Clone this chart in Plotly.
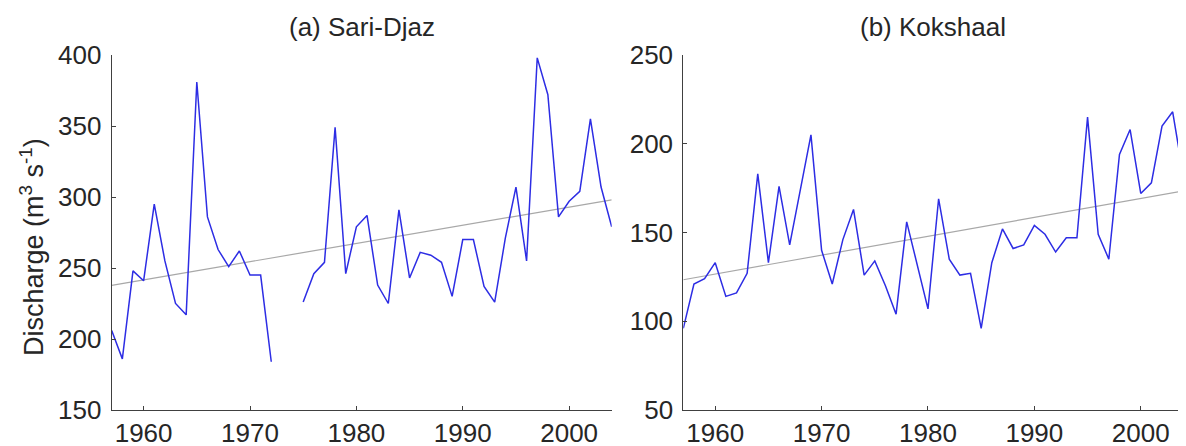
import plotly.graph_objects as go

years = list(range(1957, 2005))

# Sari-Djaz annual discharge (m3/s); 1973-1974 missing
sari_djaz = [206, 186, 248, 241, 295, 255, 225, 217, 381, 286,
             263, 251, 262, 245, 245, 184, None, None, 226, 246,
             254, 349, 246, 279, 287, 238, 225, 291, 243, 261,
             259, 254, 230, 270, 270, 237, 226, 271, 307, 255,
             398, 372, 286, 297, 304, 355, 307, 279]

# Kokshaal annual discharge (m3/s)
kokshaal = [96, 121, 124, 133, 114, 116, 127, 183, 133, 176,
            143, 173, 205, 140, 121, 146, 163, 126, 134, 120,
            104, 156, 131, 107, 169, 135, 126, 127, 96, 133,
            152, 141, 143, 154, 149, 139, 147, 147, 215, 149,
            135, 194, 208, 172, 178, 210, 218, 182]

# linear trend end values (1957, 2004)
trend_years = [1957, 2004]
sari_trend = [237.8, 298.0]
kok_trend = [123.4, 173.4]

titles = ["(a) Sari-Djaz", "(b) Kokshaal"]
ylabel = "Discharge (m<sup>3</sup> s<sup>-1</sup>)"
x_ticks = [1960, 1970, 1980, 1990, 2000]
left_yticks = [150, 200, 250, 300, 350, 400]
right_yticks = [50, 100, 150, 200, 250]

W, H = 1186, 446
OFF = 8  # page body margin offset
FONT = "Liberation Sans, Arial, sans-serif"
TXT = "#262626"
AX = "#404040"
BLUE = "rgb(45,45,228)"
GRAY = "#a8a8a8"

fig = go.Figure()
fig.add_trace(go.Scatter(x=trend_years, y=sari_trend, mode="lines",
                         line=dict(color=GRAY, width=1.2), xaxis="x", yaxis="y",
                         showlegend=False))
fig.add_trace(go.Scatter(x=years, y=sari_djaz, mode="lines", connectgaps=False,
                         line=dict(color=BLUE, width=1.5), xaxis="x", yaxis="y",
                         showlegend=False))
fig.add_trace(go.Scatter(x=trend_years, y=kok_trend, mode="lines",
                         line=dict(color=GRAY, width=1.2), xaxis="x2", yaxis="y2",
                         showlegend=False))
fig.add_trace(go.Scatter(x=years, y=kokshaal, mode="lines",
                         line=dict(color=BLUE, width=1.5), xaxis="x2", yaxis="y2",
                         showlegend=False))

def px_x(p):
    return (p - OFF) / W

def px_y(p):
    return (H - (p - OFF)) / H

xdom1 = [px_x(111.7), px_x(611.7)]
xdom2 = [px_x(683.3), px_x(1183.3)]
ydom = [px_y(410), px_y(55)]

axis_common = dict(showline=True, linecolor=AX, linewidth=1, ticks="inside",
                   tickcolor=AX, ticklen=4, showgrid=False, zeroline=False,
                   automargin=False,
                   tickfont=dict(family=FONT, size=26, color=TXT), mirror=False)

fig.update_layout(
    template="none",
    width=W, height=H,
    margin=dict(l=0, r=0, t=0, b=0, pad=0, autoexpand=False),
    paper_bgcolor="white", plot_bgcolor="white",
    xaxis=dict(domain=xdom1, range=[1957, 2004], tickvals=x_ticks, anchor="y",
               **axis_common),
    yaxis=dict(domain=ydom, range=[150, 400], tickvals=left_yticks, anchor="x",
               ticklabelstandoff=4, **axis_common),
    xaxis2=dict(domain=xdom2, range=[1957, 2004], tickvals=x_ticks, anchor="y2",
                **axis_common),
    yaxis2=dict(domain=ydom, range=[50, 250], tickvals=right_yticks, anchor="x2",
                ticklabelstandoff=4, **axis_common),
    annotations=[
        dict(text=titles[0], x=(xdom1[0] + xdom1[1]) / 2, y=px_y(27), xref="paper",
             yref="paper", showarrow=False, xanchor="center", yanchor="middle",
             font=dict(family=FONT, size=26, color=TXT)),
        dict(text=titles[1], x=(xdom2[0] + xdom2[1]) / 2, y=px_y(27), xref="paper",
             yref="paper", showarrow=False, xanchor="center", yanchor="middle",
             font=dict(family=FONT, size=26, color=TXT)),
        dict(text=ylabel, x=px_x(32), y=px_y(247), xref="paper", yref="paper",
             showarrow=False, textangle=-90, xanchor="center", yanchor="middle",
             font=dict(family=FONT, size=27, color=TXT)),
    ],
)

fig.write_html("out.html")
